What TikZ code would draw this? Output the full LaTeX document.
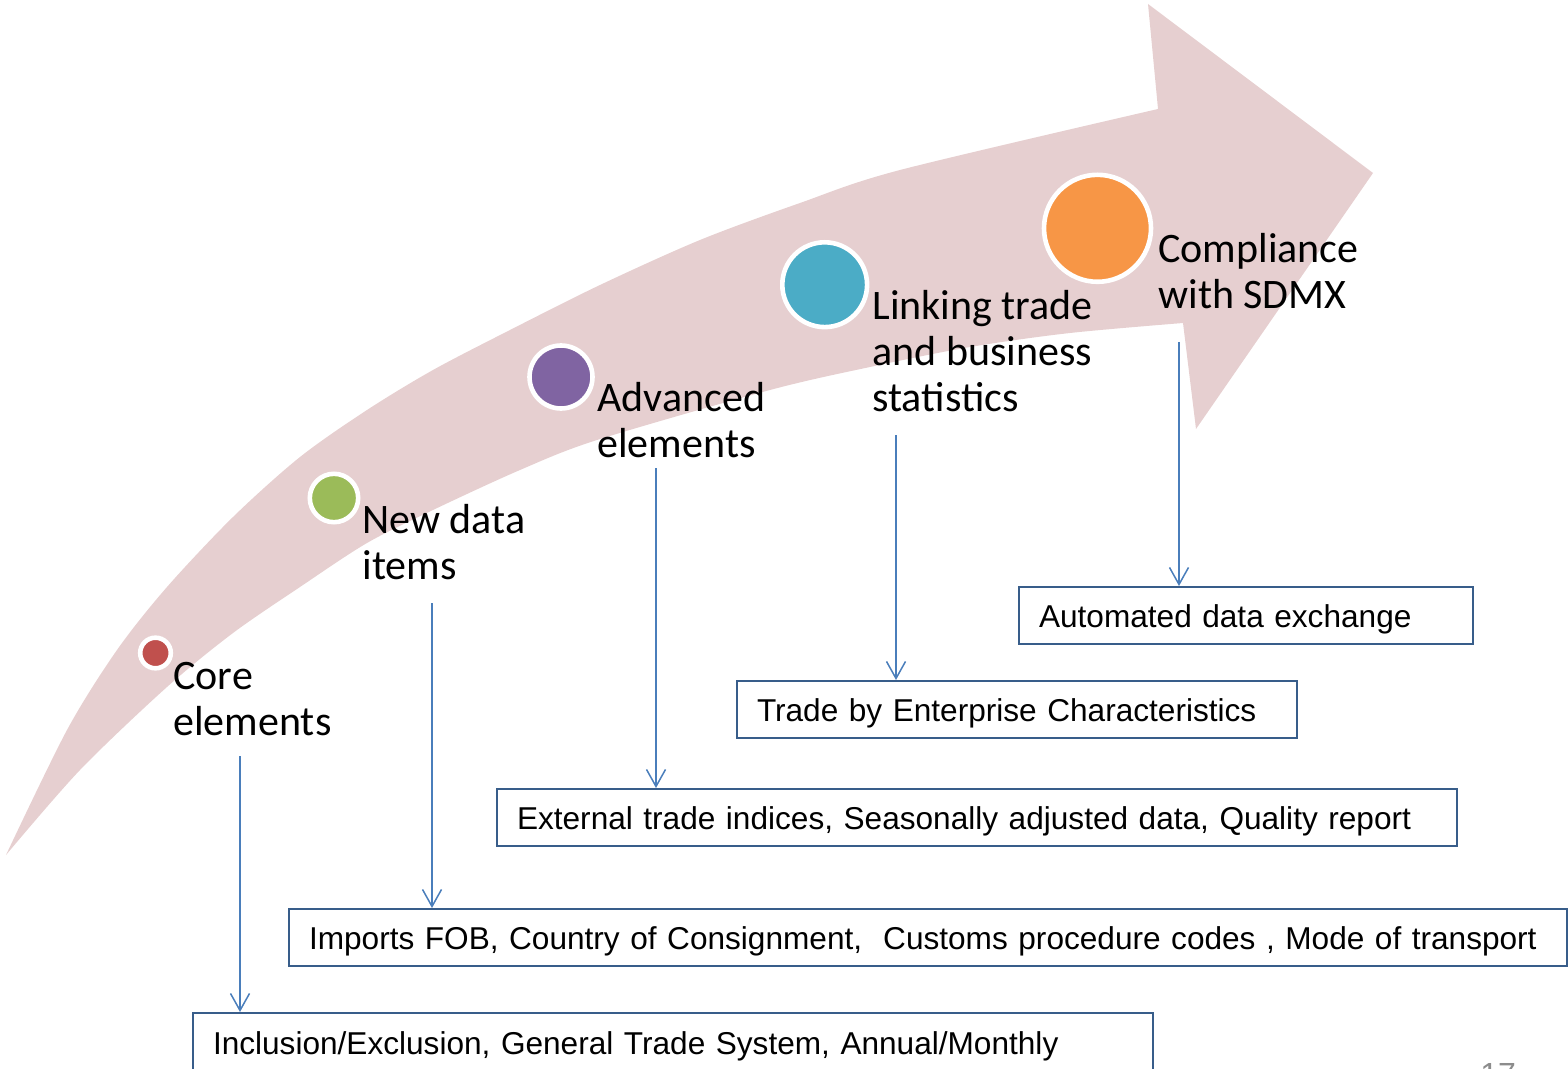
\documentclass[tikz,border=0pt]{standalone}
\usepackage{fontspec}
\setmainfont{Carlito}
\newfontfamily\boxfont{Liberation Sans}
\usetikzlibrary{arrows.meta}

\definecolor{bandpink}{HTML}{E6CFD0}
\definecolor{corered}{HTML}{C0504D}
\definecolor{newgreen}{HTML}{9BBB59}
\definecolor{advpurple}{HTML}{8064A2}
\definecolor{linkcyan}{HTML}{4BACC6}
\definecolor{sdmxorange}{HTML}{F79646}
\definecolor{linkblue}{HTML}{4A7EBB}
\definecolor{boxblue}{HTML}{385D8A}
\definecolor{pagegray}{HTML}{8C8C8C}

\begin{document}
\begin{tikzpicture}[x=0.5pt, y=-0.5pt]
        \tikzstyle{stage}=[circle, draw=white, line width=2.3pt, inner sep=0pt]
        \tikzstyle{stagetext}=[anchor=base west, align=left, inner sep=0pt, font=\fontsize{21pt}{23pt}\selectfont]
        \tikzstyle{item}=[rectangle, draw=boxblue, line width=1pt, anchor=north west, minimum height=28.5pt, inner xsep=10pt, inner ysep=0pt, text height=13pt, text depth=1.5pt, align=left, font=\boxfont\fontsize{15.8pt}{19pt}\selectfont]
        \tikzstyle{link}=[->, >={Straight Barb[length=8.5pt, width=9.5pt]}, draw=linkblue, line width=0.75pt]
        \useasboundingbox (0,0) rectangle (1568,1069);
        % \draw[draw=black!20] (0,0) grid[step=100] (1568,1069);

        % big curved arrow behind everything
        \fill[bandpink] (1148,4) -- (1373,173) -- (1196,429) -- (1183,323)
            -- plot[smooth] coordinates {(1183,323) (1070,333) (970,347) (870,367) (770,390) (597,440) (520,470) (433,510) (367,543) (300,587) (233,633) (167,687) (80,770) (6,855)}
            -- plot[smooth] coordinates {(6,855) (67,730) (117,650) (167,587) (233,517) (300,457) (367,410) (433,370) (510,330) (600,285) (700,240) (800,203) (900,170) (1158,109)}
            -- cycle;

        \node[stage, fill=corered, minimum size=15.3pt] (core) at (155.5,653) {};
        \node[stage, fill=newgreen, minimum size=24.2pt] (new) at (334,498) {};
        \node[stage, fill=advpurple, minimum size=31.5pt] (adv) at (561,377) {};
        \node[stage, fill=linkcyan, minimum size=42.4pt] (link) at (824.7,284.7) {};
        \node[stage, fill=sdmxorange, minimum size=53.5pt] (sdmx) at (1097.5,228.3) {};

        % labels sit on the baseline of their last line
        \node[stagetext] (core-text) at (173,735) {Core\\elements};
        \node[stagetext] (new-text) at (362,579) {New data\\items};
        \node[stagetext] (adv-text) at (597,458) {Advanced\\elements};
        \node[stagetext] (link-text) at (872,411) {Linking trade\\and business\\statistics};
        \node[stagetext] (sdmx-text) at (1158,309) {Compliance\\with SDMX};

        \node[item, text width=207pt] (sdmx-box) at (1018,586) {Automated data exchange};
        \node[item, text width=260pt] (link-box) at (736,680) {Trade by Enterprise Characteristics};
        \node[item, text width=460pt] (adv-box) at (496,788) {External trade indices, Seasonally adjusted data, Quality report};
        \node[item, text width=619pt] (new-box) at (288,908) {\mbox{Imports FOB, Country of Consignment,~ Customs procedure codes , Mode of transport}};
        \node[item, text width=460pt, minimum height=30pt] (core-box) at (192,1012) {Inclusion/Exclusion, General Trade System, Annual/Monthly};

        \coordinate (core-from) at (240,756);
        \coordinate (new-from) at (432,603);
        \coordinate (adv-from) at (656,468);
        \coordinate (link-from) at (896,435);
        \coordinate (sdmx-from) at (1179,342);

        \draw[link] (core-from) -- (core-from |- core-box.north);
        \draw[link] (new-from) -- (new-from |- new-box.north);
        \draw[link] (adv-from) -- (adv-from |- adv-box.north);
        \draw[link] (link-from) -- (link-from |- link-box.north);
        \draw[link] (sdmx-from) -- (sdmx-from |- sdmx-box.north);

        \node[anchor=base west, inner sep=0pt, text=pagegray, font=\boxfont\fontsize{16pt}{19pt}\selectfont] (page-no) at (1480,1085) {17};
    \end{tikzpicture}
\end{document}
